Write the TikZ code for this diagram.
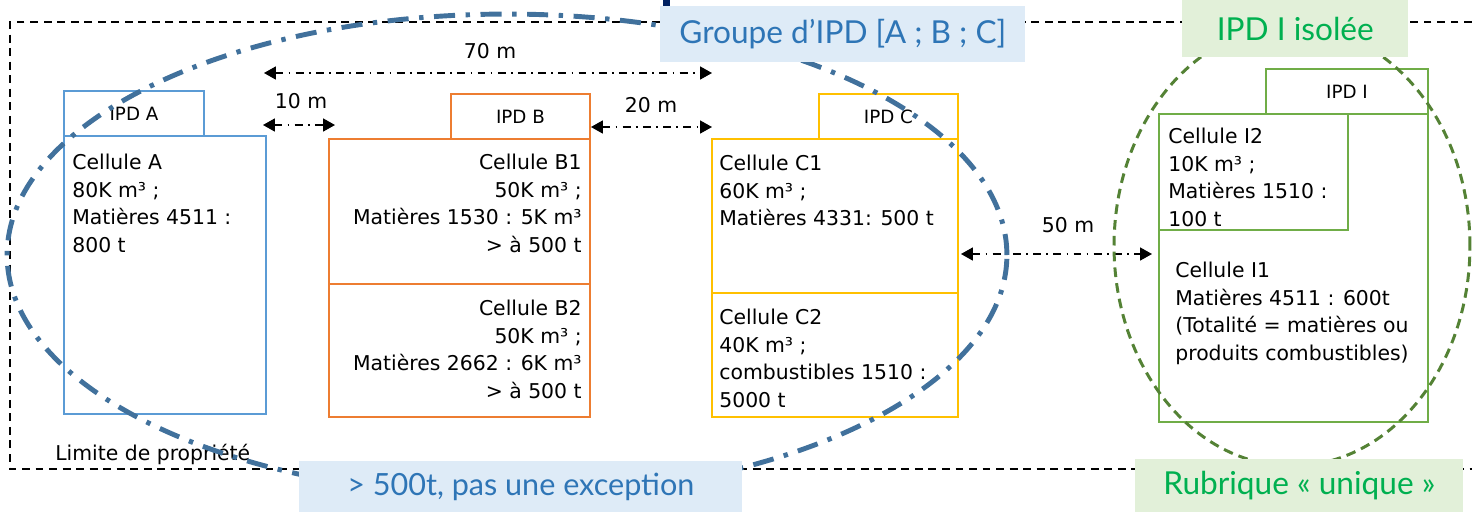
\documentclass[tikz,border=0pt]{standalone}
\usepackage{fontspec}
\setmainfont{DejaVu Sans}
\newfontfamily\notefont{Lato}
\usetikzlibrary{arrows.meta,positioning,calc}
\definecolor{ipdA}{HTML}{5B9BD5}
\definecolor{ipdB}{HTML}{ED7D31}
\definecolor{ipdC}{HTML}{FFC000}
\definecolor{ipdI}{HTML}{70AD47}
\definecolor{grpring}{HTML}{41719C}
\definecolor{isoring}{HTML}{548235}
\definecolor{bluebg}{HTML}{DEEBF7}
\definecolor{bluetxt}{HTML}{2E75B6}
\definecolor{greenbg}{HTML}{E2F0D9}
\definecolor{greentxt}{HTML}{00B050}
\definecolor{navy}{HTML}{002060}
\begin{document}
\begin{tikzpicture}[
    x=0.02cm, y=-0.02cm,
    cellbox/.style={draw, line width=1.1pt, inner sep=0pt, outer sep=0pt, anchor=north west},
    tabbox/.style={cellbox, minimum height=0.9cm, font=\fontsize{10.4}{12}\selectfont},
    celltxt/.style={inner sep=0pt, font=\fontsize{11.6}{15.6}\selectfont},
    distlbl/.style={inner sep=0pt, font=\fontsize{11.6}{14}\selectfont},
    dist/.style={line width=0.9pt, dash pattern=on 4.5pt off 3pt on 1pt off 3pt,
        arrows={Triangle[length=6.8pt,width=7.4pt]-Triangle[length=6.8pt,width=7.4pt]}},
    border/.style={line width=1.1pt, dash pattern=on 4.5pt off 3.2pt},
    note/.style={inner sep=0pt, anchor=north west, font=\notefont\fontsize{18}{20}\selectfont}
]
\useasboundingbox (0,0) rectangle (1472,512);

\coordinate (bTR) at (1472,22);
\coordinate (bTL) at (10,22);
\coordinate (bBL) at (10,469);
\coordinate (bBR) at (1472,469);
\draw[border] (bTR) -- (bTL) -- (bBL) -- (bBR);
\fill[navy] (663,0) rectangle (670,7);

\node[cellbox, draw=ipdA, minimum width=4.04cm, minimum height=5.56cm] (cA) at (64,136) {};
\node[tabbox, draw=ipdA, minimum width=2.8cm, anchor=south west] (tabA) at (cA.north west) {IPD A};

\node[cellbox, draw=ipdB, minimum width=5.22cm, minimum height=2.9cm] (cB1) at (329,139) {};
\node[cellbox, draw=ipdB, minimum width=5.22cm, minimum height=2.66cm] (cB2) at (cB1.south west) {};
\node[tabbox, draw=ipdB, minimum width=2.78cm, anchor=south east] (tabB) at (cB1.north east) {IPD B};

\node[cellbox, draw=ipdC, minimum width=4.92cm, minimum height=3.08cm] (cC1) at (712,139) {};
\node[cellbox, draw=ipdC, minimum width=4.92cm, minimum height=2.48cm] (cC2) at (cC1.south west) {};
\node[tabbox, draw=ipdC, minimum width=2.78cm, anchor=south east] (tabC) at (cC1.north east) {IPD C};

\node[cellbox, draw=ipdI, minimum width=5.38cm, minimum height=6.16cm] (cI1) at (1159,114) {};
\node[cellbox, draw=ipdI, minimum width=3.78cm, minimum height=2.32cm] (cI2) at (cI1.north west) {};
\node[tabbox, draw=ipdI, minimum width=3.24cm, anchor=south east] (tabI) at (cI1.north east) {IPD I};

\node[celltxt, anchor=north west, align=left] (txA) at (72,154) {Cellule A\\80K m³ ;\\Matières 4511 :\\800 t};
\node[celltxt, anchor=north east, align=right] (txB1) at (582,154) {Cellule B1\\50K m³ ;\\Matières 1530 : 5K m³\\> à 500 t};
\node[celltxt, anchor=north east, align=right] (txB2) at (582,300) {Cellule B2\\50K m³ ;\\Matières 2662 : 6K m³\\> à 500 t};
\node[celltxt, anchor=north west, align=left] (txC1) at (719,155) {Cellule C1\\60K m³ ;\\Matières 4331: 500 t};
\node[celltxt, anchor=north west, align=left] (txC2) at (719,309) {Cellule C2\\40K m³ ;\\combustibles 1510 :\\5000 t};
\node[celltxt, anchor=north west, align=left] (txI2) at (1168,128) {Cellule I2\\10K m³ ;\\Matières 1510 :\\100 t};
\node[celltxt, anchor=north west, align=left] (txI1) at (1175,262) {Cellule I1\\Matières 4511 : 600t\\(Totalité = matières ou\\produits combustibles)};
\node[celltxt, anchor=north west] (limit) at (55,444) {Limite de propriété};

\node[distlbl] (l70) at (490,51) {70 m};
\node[distlbl] (l10) at (301,101) {10 m};
\node[distlbl] (l20) at (651,105) {20 m};
\node[distlbl] (l50) at (1068,225) {50 m};
\draw[dist] ($(cA.north east)+(-2,-63)$) -- ($(cC1.north west)+(0,-66)$);
\draw[dist] ($(cA.north east)+(-3,-11)$) -- ($(cB1.north west)+(6,-14)$);
\draw[dist] ($(cB1.north east)+(1,-12)$) -- ($(cC1.north west)+(0,-12)$);
\draw[dist] ($(cC1.north east)+(3,115)$) -- ($(cI1.north west)+(-7,140)$);

\draw[grpring, line width=2.8pt, dash pattern=on 12pt off 6pt on 2.5pt off 6pt]
    (507,255) ellipse [x radius=10cm, y radius=4.82cm];
\draw[isoring, line width=1.7pt, dash pattern=on 5.5pt off 3.5pt]
    (1292,246) ellipse [x radius=3.56cm, y radius=4.4cm];

\node[note, fill=bluebg, text=bluetxt, minimum width=7.3cm, minimum height=1.12cm] (grp) at (660,6) {Groupe d’IPD [A ; B ; C]};
\node[note, fill=greenbg, text=greentxt, minimum width=4.52cm, minimum height=1.14cm] (iso) at (1182,0) {IPD I isolée};
\node[note, fill=bluebg, text=bluetxt, minimum width=8.86cm, minimum height=1.02cm, font=\notefont\fontsize{17.4}{20}\selectfont] (exc) at (299,461) {> 500t, pas une exception};
\node[note, fill=greenbg, text=greentxt, minimum width=6.56cm, minimum height=1.06cm] (rub) at (1135,459) {Rubrique « unique »};
\end{tikzpicture}
\end{document}
